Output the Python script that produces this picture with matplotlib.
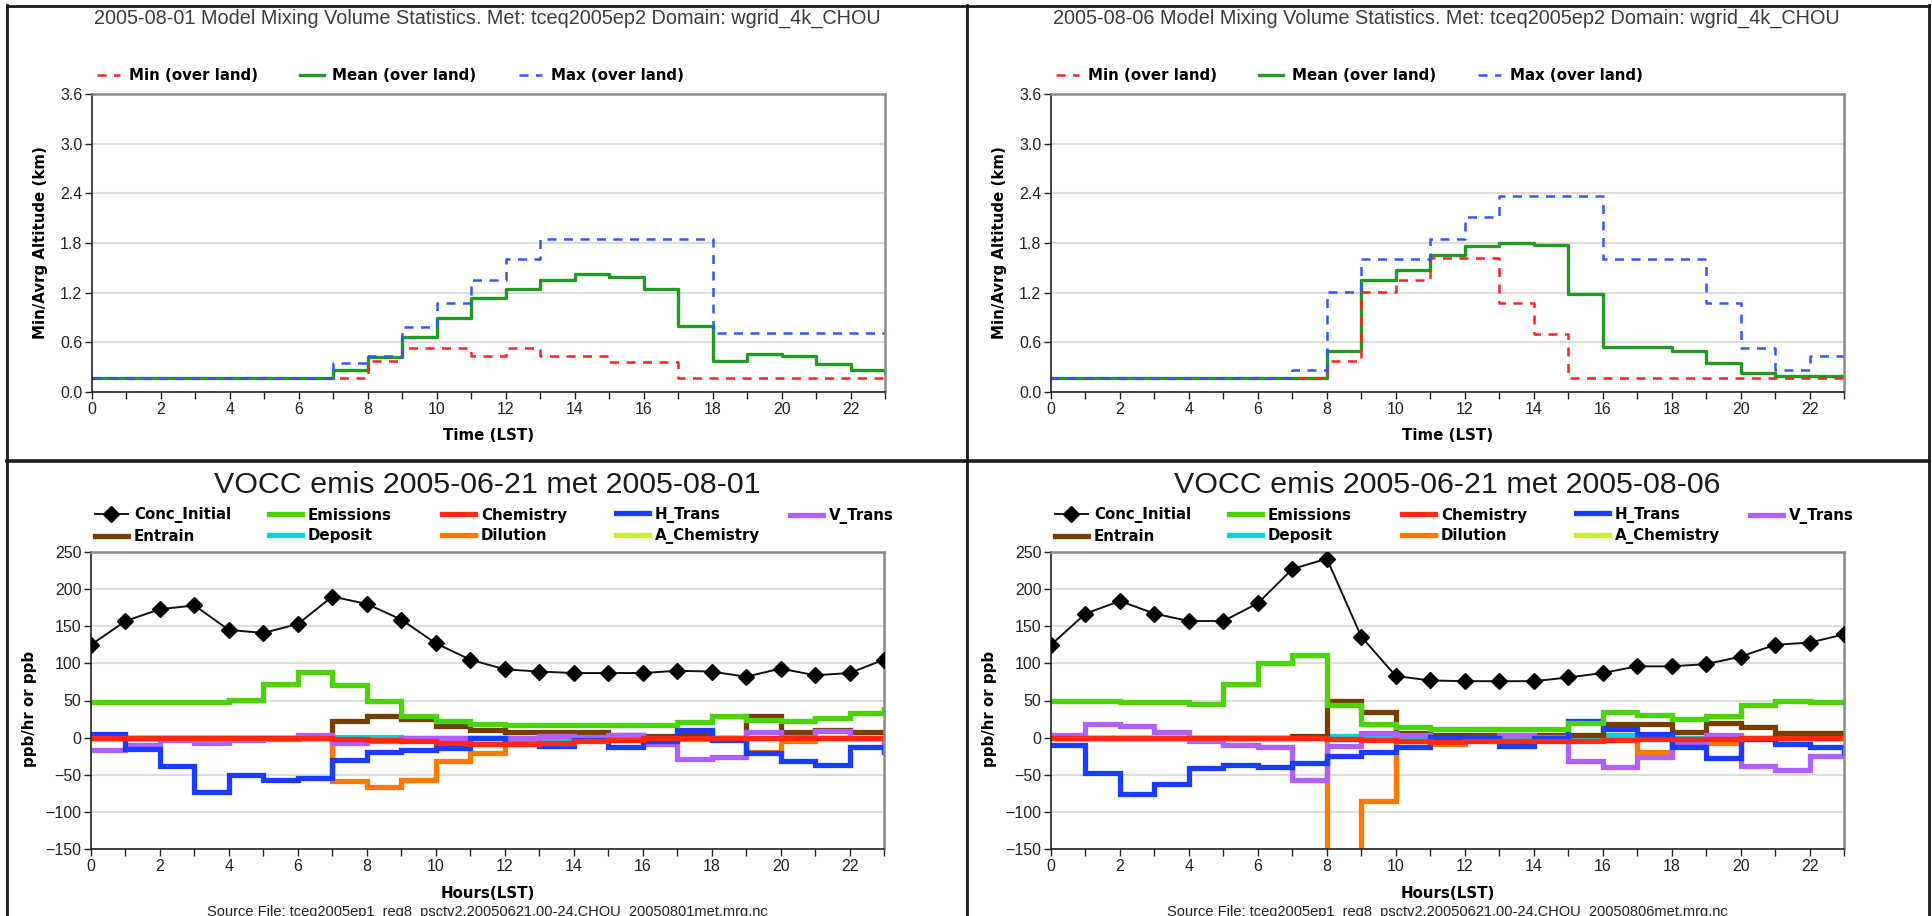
import matplotlib
matplotlib.use('Agg')
import matplotlib.pyplot as plt
from matplotlib.lines import Line2D
from matplotlib.ticker import FormatStrFormatter

W, H = 1933, 916

hours = list(range(24))
hour_labels = ['0', '', '2', '', '4', '', '6', '', '8', '', '10', '', '12', '',
               '14', '', '16', '', '18', '', '20', '', '22', '']

# mixing volume statistics (km), one value per hour
min_0801 = [0.17, 0.17, 0.17, 0.17, 0.17, 0.17, 0.17, 0.17, 0.37, 0.53, 0.53, 0.43,
            0.53, 0.44, 0.44, 0.36, 0.36, 0.17, 0.17, 0.17, 0.17, 0.17, 0.17, 0.17]
mean_0801 = [0.17, 0.17, 0.17, 0.17, 0.17, 0.17, 0.17, 0.27, 0.42, 0.67, 0.89, 1.13,
             1.24, 1.35, 1.43, 1.39, 1.25, 0.80, 0.38, 0.46, 0.44, 0.34, 0.27, 0.23]
max_0801 = [0.17, 0.17, 0.17, 0.17, 0.17, 0.17, 0.17, 0.35, 0.44, 0.79, 1.07, 1.35,
            1.61, 1.85, 1.85, 1.85, 1.85, 1.85, 0.71, 0.71, 0.71, 0.71, 0.71, 0.71]

min_0806 = [0.17, 0.17, 0.17, 0.17, 0.17, 0.17, 0.17, 0.17, 0.37, 1.21, 1.35, 1.62,
            1.62, 1.08, 0.70, 0.17, 0.17, 0.17, 0.17, 0.17, 0.17, 0.17, 0.17, 0.17]
mean_0806 = [0.17, 0.17, 0.17, 0.17, 0.17, 0.17, 0.17, 0.17, 0.50, 1.35, 1.47, 1.66,
             1.76, 1.80, 1.78, 1.18, 0.54, 0.54, 0.50, 0.35, 0.23, 0.19, 0.19, 0.19]
max_0806 = [0.17, 0.17, 0.17, 0.17, 0.17, 0.17, 0.17, 0.27, 1.21, 1.61, 1.61, 1.85,
            2.11, 2.37, 2.37, 2.37, 1.61, 1.61, 1.61, 1.08, 0.53, 0.27, 0.43, 0.38]

# VOCC process analysis (ppb/hr or ppb)
conc_0801 = [125, 157, 173, 178, 145, 141, 153, 190, 180, 159, 127, 105,
             92, 89, 87, 87, 87, 90, 89, 82, 93, 84, 87, 105]
emis_0801 = [48, 48, 48, 48, 51, 72, 89, 71, 50, 29, 23, 19,
             17, 17, 17, 17, 17, 21, 29, 24, 22, 27, 33, 38]
chem_0801 = [0, 0, 0, 0, 0, 0, 0, -2, -3, -5, -7, -8,
             -8, -7, -5, -3, -1, 0, 0, 0, 0, 0, 0, 0]
htrans_0801 = [5, -15, -38, -73, -50, -57, -54, -30, -19, -16, -14, -1,
               -8, -11, -3, -13, -5, 10, -3, -21, -32, -37, -13, -20]
vtrans_0801 = [-17, -10, -3, -7, -3, -2, 3, -7, -5, 0, 0, -1,
               -1, 2, 1, 3, -8, -29, -26, 7, 1, 9, 0, -15]
entrain_0801 = [0, 0, 0, 0, 0, 0, 0, 22, 29, 25, 15, 10,
                8, 7, 7, 4, 2, 3, 0, 29, 8, 10, 7, 7]
deposit_0801 = [0, 0, 0, 0, 0, 0, 0, 1, 1, 0, 0, 0,
                0, -2, 0, 0, 0, 0, 0, 0, 0, 0, 0, 0]
dilution_0801 = [0, 0, 0, 0, 0, 0, 0, -59, -67, -57, -32, -21,
                 -2, -2, -2, -2, -2, -2, -2, -20, -4, -1, -1, -1]
achem_0801 = [0, 0, 0, 0, 0, 0, 0, 0, 0, 0, 0, 0,
              0, 0, 0, 0, 0, 0, 0, 0, 0, 0, 0, 0]

conc_0806 = [125, 167, 184, 167, 157, 157, 181, 227, 241, 136, 83, 77,
             76, 76, 76, 81, 87, 96, 96, 99, 109, 125, 128, 139]
emis_0806 = [50, 50, 48, 48, 45, 72, 100, 111, 44, 19, 14, 12,
             12, 12, 12, 20, 35, 30, 25, 29, 44, 50, 48, 48]
chem_0806 = [0, 0, 0, 0, 0, 0, 0, 0, -2, -3, -5, -6,
             -5, -5, -4, -4, -3, -2, -2, -2, -1, -1, -1, -1]
htrans_0806 = [-10, -47, -76, -62, -41, -37, -40, -34, -25, -20, -12, 1,
               -1, -11, -1, 22, 11, 5, -13, -27, -2, -8, -12, -20]
vtrans_0806 = [3, 18, 16, 7, -5, -10, -12, -57, -11, 6, 4, 0,
               0, 4, 1, -31, -40, -26, -7, 3, -38, -43, -25, -25]
entrain_0806 = [0, 0, 0, 0, 0, 0, 0, 2, 50, 35, 6, 4,
                4, 4, 4, 3, 18, 18, 8, 20, 14, 6, 6, 6]
deposit_0806 = [0, 0, 0, 0, 0, 0, 0, 0, 2, 0, 0, 0,
                0, 0, 0, 0, 3, 0, 0, 0, 0, 0, 0, 0]
dilution_0806 = [0, 0, 0, 0, 0, 0, 0, 0, -220, -86, -5, -8,
                 -3, -3, -3, -3, -2, -19, -3, -7, -1, -1, -1, -1]
achem_0806 = [0, 0, 0, 0, 0, 0, 0, 0, 0, 0, 0, 0,
              0, 0, 0, 0, 0, 0, 0, 0, 0, 0, 0, 0]

alt_ticks = [0.0, 0.6, 1.2, 1.8, 2.4, 3.0, 3.6]
ppb_ticks = [-150, -100, -50, 0, 50, 100, 150, 200, 250]

process_names = ['Conc_Initial', 'Emissions', 'Chemistry', 'H_Trans', 'V_Trans',
                 'Entrain', 'Deposit', 'Dilution', 'A_Chemistry']
process_colors = ['#111111', '#4cd40a', '#ff2a10', '#1a3cff', '#b060ff',
                  '#7a3d00', '#10d0d8', '#ff7800', '#c8f03c']

TICK_FONT = 'Liberation Sans'
BOLD = {'family': 'DejaVu Sans', 'weight': 'bold', 'size': 10.8}


def fx(px):
    return px / W


def fy(py):
    return 1 - py / H


def add_axes(left, top, right, bottom):
    return plt.gcf().add_axes([fx(left), fy(bottom), fx(right - left), (bottom - top) / H])


def style_axes(ax, ylim, yticks, fmt=None):
    ax.set_xlim(0, 23)
    ax.set_ylim(*ylim)
    ax.set_xticks(hours)
    ax.set_xticklabels(hour_labels)
    ax.set_yticks(yticks)
    if fmt:
        ax.yaxis.set_major_formatter(FormatStrFormatter(fmt))
    ax.tick_params(direction='out', length=5, width=1, pad=2, labelsize=11.5,
                   colors='#222222')
    for lab in ax.get_xticklabels() + ax.get_yticklabels():
        lab.set_family(TICK_FONT)
    ax.grid(axis='y', color='#dcdcdc', lw=1.6)
    ax.set_axisbelow(True)
    for s in ['top', 'right']:
        ax.spines[s].set_color('#8a8a8a')
        ax.spines[s].set_linewidth(1.8)
    for s in ['left', 'bottom']:
        ax.spines[s].set_color('#222222')
        ax.spines[s].set_linewidth(1.2)


def mixing_panel(left, title, mins, means, maxs):
    ax = add_axes(left, 94, left + 793, 392)
    l_mean, = ax.step(hours, means, where='post', color='#229922', lw=2.4,
                      label='Mean (over land)')
    l_min, = ax.step(hours, mins, where='post', color='#ff2020', lw=1.8,
                     dashes=(3.6, 3.0), label='Min (over land)')
    l_max, = ax.step(hours, maxs, where='post', color='#3355ff', lw=1.8,
                     dashes=(3.6, 3.0), label='Max (over land)')
    style_axes(ax, (0, 3.6), alt_ticks, '%.1f')
    ax.set_xlabel('Time (LST)', fontdict=BOLD)
    ax.xaxis.set_label_coords(0.5, (392 - 436) / 298)
    ax.xaxis.label.set_va('center')
    ax.set_ylabel('Min/Avrg Altitude (km)', fontdict=BOLD)
    ax.yaxis.set_label_coords(-51 / 793, 0.5)
    ax.yaxis.label.set_va('center')
    plt.gcf().text(fx(left + 395), fy(18), title, ha='center', va='center',
                   family='Liberation Sans', fontsize=14.3, color='#3c3c3c')
    ax.legend(handles=[l_min, l_mean, l_max], loc='center left',
              bbox_to_anchor=(fx(left + 5), fy(76)), bbox_transform=plt.gcf().transFigure,
              ncol=3, frameon=False, borderpad=0, borderaxespad=0,
              handlelength=1.55, handletextpad=0.6, columnspacing=2.8, prop=BOLD)
    return ax


def process_panel(left, title, source, series):
    fig = plt.gcf()
    ax = add_axes(left, 552, left + 793, 849)
    lines = [None] * len(series)
    # drawn back to front so Chemistry sits above the transport terms
    for i in range(len(series) - 1, 0, -1):
        lines[i], = ax.step(hours, series[i], where='post', color=process_colors[i],
                            lw=3.8, label=process_names[i], solid_joinstyle='miter')
    lines[0], = ax.plot(hours, series[0], color=process_colors[0], lw=1.4,
                        marker='D', ms=8, markerfacecolor='black',
                        markeredgecolor='black', label=process_names[0], zorder=5)
    style_axes(ax, (-150, 250), ppb_ticks)
    ax.set_xlabel('Hours(LST)', fontdict=BOLD)
    ax.xaxis.set_label_coords(0.5, (849 - 893) / 297)
    ax.xaxis.label.set_va('center')
    ax.set_ylabel('ppb/hr or ppb', fontdict=BOLD)
    ax.yaxis.set_label_coords((30 - 91) / 793, 0.47)
    ax.yaxis.label.set_va('center')
    fig.text(fx(left + 396), fy(485), title, ha='center', va='center',
             family='Liberation Sans', fontsize=21.9, color='#1a1a1a')
    fig.text(fx(left + 396), fy(905), source, ha='center', va='top',
             family='Liberation Sans', fontsize=10.5, color='#222222')
    columns = [[0, 5], [1, 6], [2, 7], [3, 8], [4]]
    col_x = [4, 178, 351, 525, 699]
    for cx, col in zip(col_x, columns):
        cy = 525.5 if len(col) == 2 else 516.3
        fig.legend(handles=[lines[i] for i in col], loc='center left',
                   bbox_to_anchor=(fx(left + cx), fy(cy)), frameon=False,
                   borderpad=0, borderaxespad=0, handlelength=2.2,
                   handletextpad=0.4, labelspacing=0.37, numpoints=1, prop=BOLD)
    return ax


fig = plt.figure(figsize=(W / 100, H / 100), dpi=100)
fig.patch.set_facecolor('white')

mixing_panel(92, '2005-08-01 Model Mixing Volume Statistics. Met: tceq2005ep2 Domain: wgrid_4k_CHOU',
             min_0801, mean_0801, max_0801)
mixing_panel(1051, '2005-08-06 Model Mixing Volume Statistics. Met: tceq2005ep2 Domain: wgrid_4k_CHOU',
             min_0806, mean_0806, max_0806)
process_panel(91, 'VOCC emis 2005-06-21 met 2005-08-01',
              'Source File: tceq2005ep1_reg8_psctv2.20050621.00-24.CHOU_20050801met.mrg.nc',
              [conc_0801, emis_0801, chem_0801, htrans_0801, vtrans_0801,
               entrain_0801, deposit_0801, dilution_0801, achem_0801])
process_panel(1051, 'VOCC emis 2005-06-21 met 2005-08-06',
              'Source File: tceq2005ep1_reg8_psctv2.20050621.00-24.CHOU_20050806met.mrg.nc',
              [conc_0806, emis_0806, chem_0806, htrans_0806, vtrans_0806,
               entrain_0806, deposit_0806, dilution_0806, achem_0806])

# panel frame
frame = dict(color='#1a1a1a', lw=2.0, transform=fig.transFigure)
fig.add_artist(Line2D([fx(7), fx(1929)], [fy(5.5), fy(5.5)], **frame))
fig.add_artist(Line2D([fx(7), fx(1929)], [fy(461), fy(461)], color='#1a1a1a', lw=2.6,
                      transform=fig.transFigure))
fig.add_artist(Line2D([fx(7.5), fx(7.5)], [fy(5), fy(916)], **frame))
fig.add_artist(Line2D([fx(967), fx(967)], [fy(5), fy(916)], **frame))
fig.add_artist(Line2D([fx(1929), fx(1929)], [fy(5), fy(916)], **frame))

fig.savefig('out.png', dpi=100)
